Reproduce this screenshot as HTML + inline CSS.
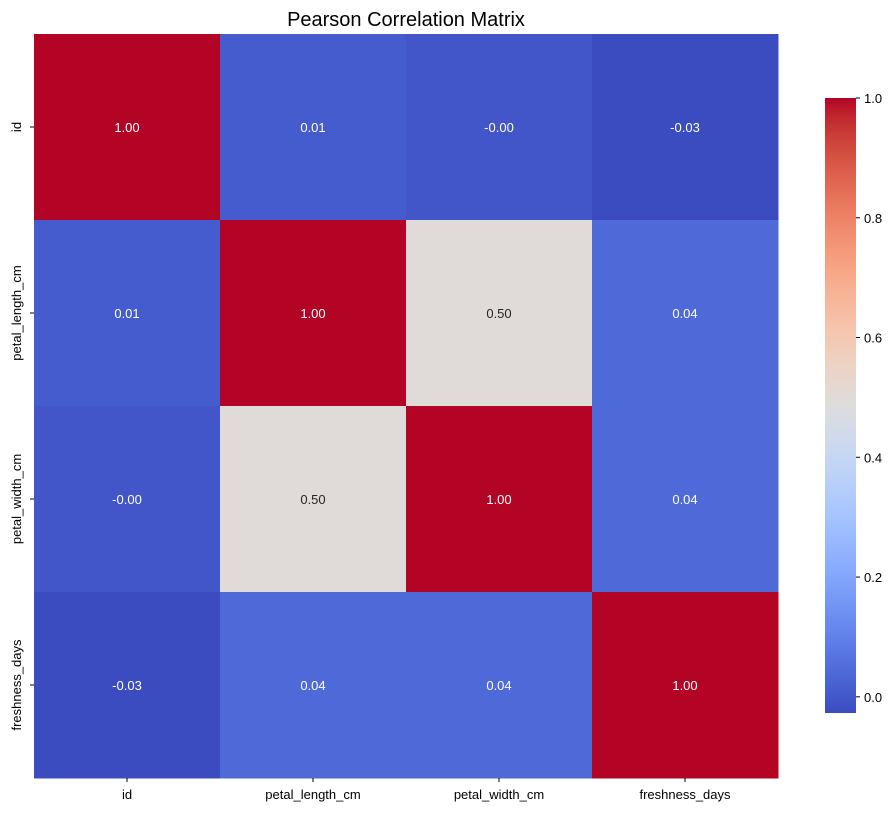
<!DOCTYPE html>
<html><head><meta charset="utf-8"><style>
body{margin:0;background:#fff;font-family:"Liberation Sans","DejaVu Sans",sans-serif;}
</style></head><body>
<svg id="chart" width="896" height="812" font-family="Liberation Sans, DejaVu Sans, sans-serif">
<defs><linearGradient id="cbgrad" x1="0" y1="1" x2="0" y2="0"></linearGradient></defs>
<text x="406" y="26" font-size="20" text-anchor="middle">Pearson Correlation Matrix</text>
<g id="cells"></g><g id="labels"></g><g id="cbar"></g>
</svg>
<script>
const categories=["id","petal_length_cm","petal_width_cm","freshness_days"];
const row0=[1.00,0.01,-0.003,-0.03];
const row1=[0.01,1.00,0.50,0.04];
const row2=[-0.003,0.50,1.00,0.04];
const row3=[-0.03,0.04,0.04,1.00];
const colorTicks=[0.0,0.2,0.4,0.6,0.8,1.0];
const vmin=-0.027,vmax=1.0;
const rows=[row0,row1,row2,row3];
const cm=[[59,76,192],[68,90,204],[77,104,215],[87,117,225],[98,130,234],[108,142,241],[119,154,247],[130,165,251],[141,176,254],[152,185,255],[163,194,255],[174,201,253],[184,208,249],[194,213,244],[204,217,238],[213,219,230],[221,221,221],[229,216,209],[236,211,197],[241,204,184],[245,196,172],[247,187,159],[247,177,147],[247,166,134],[244,154,122],[241,141,110],[236,127,99],[229,112,88],[222,96,77],[213,80,66],[203,62,56],[192,40,47],[180,4,38]];
function cmap(t){t=Math.max(0,Math.min(1,t));const p=t*32,i=Math.min(31,Math.floor(p)),f=p-i;const c=cm[i].map((v,k)=>Math.round(v+(cm[i+1][k]-v)*f));return `rgb(${c[0]},${c[1]},${c[2]})`;}
const NS="http://www.w3.org/2000/svg";
const X0=34,Y0=34,S=186;
const xPos=i=>X0+i*S, yPos=i=>Y0+i*S;
const norm=v=>(v-vmin)/(vmax-vmin);
function mk(tag,attrs,parent){const e=document.createElementNS(NS,tag);for(const k in attrs)e.setAttribute(k,attrs[k]);parent.appendChild(e);return e;}
const cells=document.getElementById('cells'),labels=document.getElementById('labels'),cbar=document.getElementById('cbar');
rows.forEach((r,i)=>r.forEach((v,j)=>{
 const t=norm(v);
 const rc=mk('rect',{x:xPos(j),y:yPos(i),width:S+0.5,height:S+0.5,fill:cmap(t)},cells);
 
 
 const tx=mk('text',{x:xPos(j)+S/2,y:yPos(i)+S/2+5,'font-size':13,'text-anchor':'middle',fill:(t>0.3&&t<0.7)?'#262626':'#fff'},cells);
 tx.textContent=(Math.abs(v)<0.005&&v<0?'-0.00':v.toFixed(2));
 
 
}));
categories.forEach((c,i)=>{
 mk('line',{x1:xPos(i)+S/2,x2:xPos(i)+S/2,y1:778,y2:782,stroke:'#000'},labels);
 const t=mk('text',{x:xPos(i)+S/2,y:799,'font-size':13,'text-anchor':'middle'},labels);t.textContent=c;
 
 
 mk('line',{x1:30,x2:34,y1:yPos(i)+S/2,y2:yPos(i)+S/2,stroke:'#000'},labels);
 const y=yPos(i)+S/2;
 const u=mk('text',{x:21,y:y,'font-size':13,'text-anchor':'middle',transform:`rotate(-90 21 ${y})`},labels);u.textContent=c;
 
 
});
// colorbar
const CB={x:825,w:31,top:98,bot:713};
const cy=v=>CB.bot-(v-vmin)/(vmax-vmin)*(CB.bot-CB.top);
const g=document.getElementById('cbgrad');
for(let k=0;k<=32;k++)mk('stop',{offset:(k/32),'stop-color':cmap(k/32)},g);
const cr=mk('rect',{x:CB.x,y:CB.top,width:CB.w,height:CB.bot-CB.top,fill:'url(#cbgrad)'},cbar);


colorTicks.forEach(v=>{
 mk('line',{x1:CB.x+CB.w,x2:CB.x+CB.w+4,y1:cy(v),y2:cy(v),stroke:'#000'},cbar);
 const t=mk('text',{x:CB.x+CB.w+8,y:cy(v)+5,'font-size':13},cbar);t.textContent=v.toFixed(1);
 
 
});
</script>
</body></html>
